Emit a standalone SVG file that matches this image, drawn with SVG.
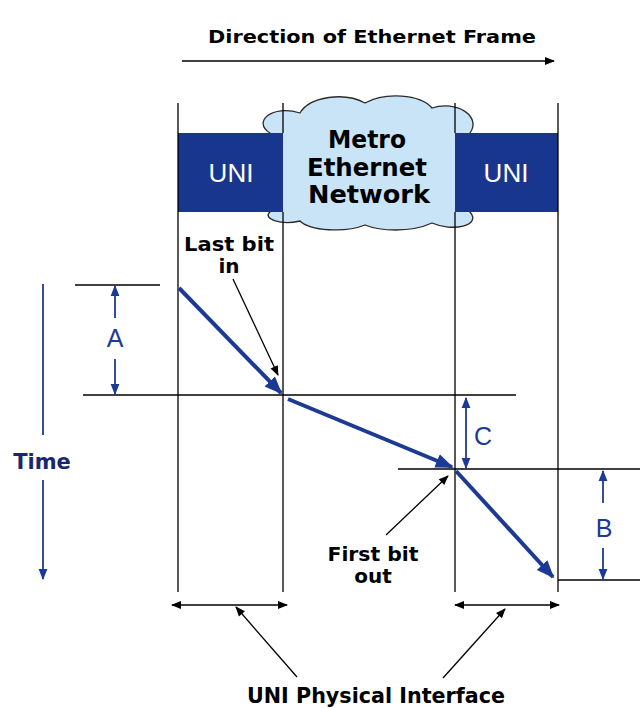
<svg xmlns="http://www.w3.org/2000/svg" width="640" height="708" viewBox="0 0 640 708">
<defs>
<marker id="ab" viewBox="0 0 10 10" refX="9" refY="5" markerWidth="12" markerHeight="10" markerUnits="userSpaceOnUse" orient="auto-start-reverse"><path d="M0,1 L10,5 L0,9 Z" fill="#000"/></marker>
<marker id="ablue" viewBox="0 0 10 10" refX="9" refY="5" markerWidth="4.5" markerHeight="4.5" orient="auto-start-reverse"><path d="M0,1 L10,5 L0,9 Z" fill="#1c3a94"/></marker>
<marker id="abs" viewBox="0 0 10 10" refX="9" refY="5" markerWidth="11" markerHeight="11" markerUnits="userSpaceOnUse" orient="auto-start-reverse"><path d="M0,1 L10,5 L0,9 Z" fill="#1c3a94"/></marker>
</defs>
<style>
.k{stroke:#000;stroke-width:1.3;fill:none}
.b{stroke:#1c3a94;stroke-width:4;fill:none}
.bt{stroke:#1c3a94;stroke-width:1.8;fill:none}
.lbl{font-family:"DejaVu Sans",Verdana,sans-serif;font-weight:bold;fill:#000;text-anchor:middle}
.let{font-family:"Liberation Sans",Arial,sans-serif;fill:#1c3a94;font-size:25px;text-anchor:middle}
.uni{font-family:"Liberation Sans",Arial,sans-serif;font-size:26px;fill:#fff;text-anchor:middle}
</style>
<rect width="640" height="708" fill="#fff"/>
<g id="title">
<text class="lbl" x="372" y="43" font-size="18" textLength="328" lengthAdjust="spacingAndGlyphs">Direction of Ethernet Frame</text>
<line class="k" x1="182" y1="61" x2="554" y2="61" stroke-width="2" marker-end="url(#ab)"/>
</g>
<g id="cloud">
<path d="M270,133 C252,122 272,104 300,113 C310,96 345,92 365,103 C385,92 420,94 432,108 C456,100 482,116 470,133 L470,212 C482,226 452,232 432,223 C410,233 380,231 365,225 C345,233 310,231 300,221 C280,226 262,218 270,212 Z" fill="#c8e4f6" stroke="#2a2a2a" stroke-width="1.3"/>
<text class="lbl" x="367" y="148" font-size="24" textLength="78" lengthAdjust="spacingAndGlyphs">Metro</text>
<text class="lbl" x="367" y="176" font-size="24" textLength="120" lengthAdjust="spacingAndGlyphs">Ethernet</text>
<text class="lbl" x="369" y="203" font-size="24" textLength="122" lengthAdjust="spacingAndGlyphs">Network</text>
</g>
<g id="uni-left">
<rect x="178" y="133" width="105" height="79" fill="#18368e"/>
<text class="uni" x="231" y="182">UNI</text>
</g>
<g id="uni-right">
<rect x="455" y="133" width="103" height="79" fill="#18368e"/>
<text class="uni" x="506" y="182">UNI</text>
</g>
<g id="grid">
<line class="k" x1="178" y1="103" x2="178" y2="592"/>
<line class="k" x1="283" y1="103" x2="283" y2="133"/>
<line class="k" x1="283" y1="212" x2="283" y2="592"/>
<line class="k" x1="455" y1="103" x2="455" y2="133"/>
<line class="k" x1="455" y1="212" x2="455" y2="592"/>
<line class="k" x1="558" y1="103" x2="558" y2="592"/>
<line class="k" x1="75" y1="285" x2="160" y2="285"/>
<line class="k" x1="83" y1="395" x2="516" y2="395"/>
<line class="k" x1="398" y1="469" x2="640" y2="469"/>
<line class="k" x1="558" y1="580" x2="640" y2="580"/>
</g>
<g id="connectors">
<line class="b" x1="179" y1="288" x2="281" y2="393" marker-end="url(#ablue)"/>
<line class="b" x1="288" y1="399" x2="452" y2="467" marker-end="url(#ablue)"/>
<line class="b" x1="456" y1="471" x2="553" y2="577" marker-end="url(#ablue)"/>
<line class="k" x1="233" y1="279" x2="278" y2="375" marker-end="url(#ab)"/>
<line class="k" x1="386" y1="535" x2="448" y2="476" stroke-width="1.5" marker-end="url(#ab)"/>
<line class="k" x1="172" y1="605" x2="287" y2="605" marker-start="url(#ab)" marker-end="url(#ab)"/>
<line class="k" x1="455" y1="605" x2="559" y2="605" marker-start="url(#ab)" marker-end="url(#ab)"/>
<line class="k" x1="297" y1="677" x2="236" y2="607" stroke-width="2" marker-end="url(#ab)"/>
<line class="k" x1="443" y1="678" x2="505" y2="609" stroke-width="2" marker-end="url(#ab)"/>
<line class="bt" x1="115" y1="318" x2="115" y2="286" marker-end="url(#abs)"/>
<line class="bt" x1="115" y1="359" x2="115" y2="394" marker-end="url(#abs)"/>
<line class="bt" x1="466" y1="398" x2="466" y2="468" marker-start="url(#abs)" marker-end="url(#abs)"/>
<line class="bt" x1="603" y1="503" x2="603" y2="471" marker-end="url(#abs)"/>
<line class="bt" x1="603" y1="548" x2="603" y2="579" marker-end="url(#abs)"/>
<line class="bt" x1="43" y1="284" x2="43" y2="435"/>
<line class="bt" x1="43" y1="480" x2="43" y2="579" marker-end="url(#abs)"/>
</g>
<g id="labels">
<text class="lbl" x="229" y="251" font-size="20" textLength="90" lengthAdjust="spacingAndGlyphs">Last bit</text>
<text class="lbl" x="229" y="273" font-size="20">in</text>
<text class="lbl" x="373" y="561" font-size="20" textLength="91" lengthAdjust="spacingAndGlyphs">First bit</text>
<text class="lbl" x="373" y="583" font-size="20">out</text>
<text class="lbl" x="376" y="703" font-size="22" textLength="258" lengthAdjust="spacingAndGlyphs">UNI Physical Interface</text>
<text x="42" y="469" font-family="DejaVu Sans,Verdana,sans-serif" font-weight="bold" font-size="21" fill="#1a2670" text-anchor="middle">Time</text>
<text class="let" x="115" y="347">A</text>
<text class="let" x="483" y="445">C</text>
<text class="let" x="604" y="537">B</text>
</g>
</svg>
